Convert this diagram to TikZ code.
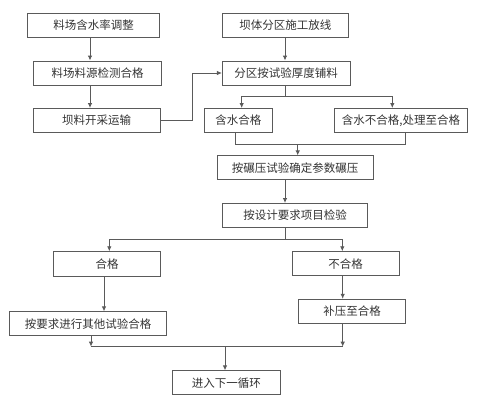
\documentclass[tikz,border=0pt]{standalone}
\usepackage{fontspec}
\newfontfamily\cjk{Noto Sans CJK SC}
\usetikzlibrary{arrows.meta}
\definecolor{linegray}{HTML}{5A5A5A}
\definecolor{textgray}{HTML}{333333}
\tikzset{
    box/.style={draw=linegray, line width=0.9pt, minimum height=24pt, inner sep=0pt,
        text=textgray, font=\cjk\fontsize{11.5}{13}\selectfont},
    arr/.style={draw=linegray, line width=0.9pt, -{Latex[length=5pt,width=4.5pt]}},
    ln/.style={draw=linegray, line width=0.9pt},
}
\begin{document}
\begin{tikzpicture}[x=1pt, y=-1pt]
        \useasboundingbox (0, 0) rectangle (487, 408);
        % left column
        \node[box, minimum width=131.6pt] (n1) at (93.5, 25.3) {料场含水率调整};
        \node[box, minimum width=128.4pt] (n3) at (97.5, 73) {料场料源检测合格};
        \node[box, minimum width=126.7pt] (n5) at (96.7, 120.5) {坝料开采运输};
        % right column
        \node[box, minimum width=126pt] (n2) at (285.3, 25.3) {坝体分区施工放线};
        \node[box, minimum width=127.7pt] (n4) at (286.2, 73) {分区按试验厚度铺料};
        \node[box, minimum width=68.7pt] (n6) at (238.3, 120.5) {含水合格};
        \node[box, minimum width=133.4pt] (n7) at (401, 120.5) {含水不合格,处理至合格};
        \node[box, minimum width=156.3pt] (n8) at (295.2, 167.9) {按碾压试验确定参数碾压};
        \node[box, minimum width=145.4pt] (n9) at (295, 215.5) {按设计要求项目检验};
        % checks
        \node[box, minimum width=107.4pt, minimum height=25pt] (n10) at (107, 264.2) {合格};
        \node[box, minimum width=107pt] (n11) at (345.5, 263.7) {不合格};
        \node[box, minimum width=157.4pt] (n12) at (88, 323.8) {按要求进行其他试验合格};
        \node[box, minimum width=107.4pt] (n13) at (352, 311.3) {补压至合格};
        \node[box, minimum width=107.3pt] (n14) at (226.3, 382.8) {进入下一循环};

        % junction points
        \coordinate (lx) at (90, 0);
        \coordinate (mx) at (285, 0);
        \coordinate (j1) at (285, 96.7);
        \coordinate (j2) at (297.7, 144.3);
        \coordinate (j3) at (285.7, 239.3);
        \coordinate (j4) at (225, 346.7);

        \draw[arr] (n1.south -| lx) -- (n3.north -| lx);
        \draw[arr] (n3.south -| lx) -- (n5.north -| lx);
        \draw[arr] (n2.south -| mx) -- (n4.north -| mx);
        \draw[arr] (n5.east) -- ++(31.7, 0) |- (n4.west);

        \draw[ln] (n4.south -| j1) -- (j1);
        \draw[arr] (j1) -| ([xshift=3.4pt]n6.north);
        \draw[arr] (j1) -| ([xshift=-8.7pt]n7.north);
        \draw[ln] ([xshift=-2.6pt]n6.south) |- (j2) -| ([xshift=4.7pt]n7.south);
        \draw[arr] (j2) -- (n8.north -| j2);
        \draw[arr] (n8.south -| mx) -- (n9.north -| mx);

        \draw[ln] (n9.south -| j3) -- (j3);
        \draw[arr] (j3) -| ([xshift=2.3pt]n10.north);
        \draw[arr] (j3) -| ([xshift=-3.2pt]n11.north);
        \draw[arr] ([xshift=-3pt]n10.south) -- ([xshift=-3pt]n10.south |- n12.north);
        \draw[arr] ([xshift=-2.8pt]n11.south) -- ([xshift=-2.8pt]n11.south |- n13.north);

        \draw[arr] ([xshift=3pt]n12.south) -- ([xshift=3pt]n12.south |- j4);
        \draw[arr] ([xshift=-9.3pt]n13.south) -- ([xshift=-9.3pt]n13.south |- j4);
        \draw[ln] ([xshift=3pt]n12.south |- j4) -- ([xshift=-9.3pt]n13.south |- j4);
        \draw[arr] (j4) -- (n14.north -| j4);
    \end{tikzpicture}
\end{document}
